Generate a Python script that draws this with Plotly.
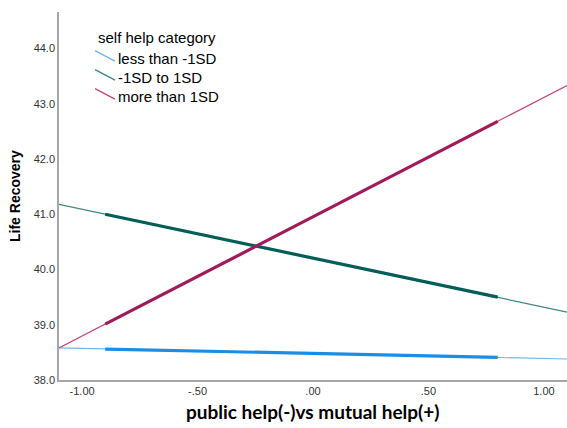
import plotly.graph_objects as go

# Fit lines over the whole axis range and the observed-range segments
categories = ["less than -1SD", "-1SD to 1SD", "more than 1SD"]
x_fit = [-1.1, 1.1]
x_obs = [-0.9, 0.8]
fit_values = {
    "less than -1SD": [38.58, 38.38],
    "-1SD to 1SD": [41.18, 39.23],
    "more than 1SD": [38.58, 43.33],
}
obs_values = {
    "less than -1SD": [38.56, 38.41],
    "-1SD to 1SD": [41.00, 39.50],
    "more than 1SD": [39.01, 42.68],
}
y_ticks = [38.0, 39.0, 40.0, 41.0, 42.0, 43.0, 44.0]
x_ticks = [-1.0, -0.5, 0.0, 0.5, 1.0]
x_tick_labels = ["-1.00", "-.50", ".00", ".50", "1.00"]

thin_colors = ["#6db6f2", "#3b8883", "#c4467e"]
thick_colors = ["#1a8de6", "#005e57", "#a11a5a"]

W, H = 567, 428
ML, MR, MT, MB = 59, 0, 12, 48
PW, PH = W - ML - MR, H - MT - MB

AX_FONT = "Arial, Liberation Sans, sans-serif"

fig = go.Figure()
for cat, thin, thick in zip(categories, thin_colors, thick_colors):
    fig.add_trace(go.Scatter(x=x_fit, y=fit_values[cat], mode="lines",
                             line=dict(color=thin, width=1.2), showlegend=False,
                             hoverinfo="skip"))
for cat, thin, thick in zip(categories, thin_colors, thick_colors):
    fig.add_trace(go.Scatter(x=x_obs, y=obs_values[cat], mode="lines",
                             line=dict(color=thick, width=3.2), showlegend=False,
                             name=cat))


def px_x(p):
    return (p - ML) / PW


def px_y(p):
    return (H - MB - p) / PH


# Legend drawn inside the plot area with slanted line keys
fig.add_annotation(x=px_x(96), y=px_y(37.7), xref="paper", yref="paper",
                   text="self help category", showarrow=False,
                   xanchor="left", yanchor="middle",
                   font=dict(family=AX_FONT, size=15, color="#000000"))
for i, (cat, thin) in enumerate(zip(categories, thin_colors)):
    yc = 58.7 + 19 * i
    fig.add_shape(type="line", xref="paper", yref="paper",
                  x0=px_x(95), y0=px_y(yc - 8), x1=px_x(115), y1=px_y(yc + 2.5),
                  line=dict(color=thin, width=1.3))
    fig.add_annotation(x=px_x(115.5), y=px_y(yc), xref="paper", yref="paper",
                       text=cat, showarrow=False, xanchor="left", yanchor="middle",
                       font=dict(family=AX_FONT, size=15, color="#000000"))

# Axis titles
fig.add_annotation(x=px_x(15), y=0.5, xref="paper", yref="paper",
                   text="<b>Life Recovery</b>", textangle=-90, showarrow=False,
                   xanchor="center", yanchor="middle",
                   font=dict(family=AX_FONT, size=14, color="#000000"))
fig.add_annotation(x=px_x(313), y=px_y(411), xref="paper", yref="paper",
                   text="<b>public help(-)vs mutual help(+)</b>", showarrow=False,
                   xanchor="center", yanchor="middle",
                   font=dict(family="Lato, sans-serif", size=19, color="#000000"))

fig.update_layout(
    width=W, height=H,
    margin=dict(l=ML, r=MR, t=MT, b=MB),
    paper_bgcolor="white", plot_bgcolor="white",
    showlegend=False,
    xaxis=dict(range=[-1.1, 1.1], tickvals=x_ticks, ticktext=x_tick_labels,
               showgrid=False, zeroline=False, showline=True,
               linecolor="#a6a6a6", linewidth=1.5, ticks="",
               tickfont=dict(family=AX_FONT, size=11, color="#333333")),
    yaxis=dict(range=[38.0, 44.66], tickvals=y_ticks,
               ticktext=[f"{v:.1f}" for v in y_ticks],
               showgrid=False, zeroline=False, showline=True,
               linecolor="#a6a6a6", linewidth=1.5, ticks="",
               tickfont=dict(family=AX_FONT, size=11, color="#333333")),
)

fig.write_html("out.html")
